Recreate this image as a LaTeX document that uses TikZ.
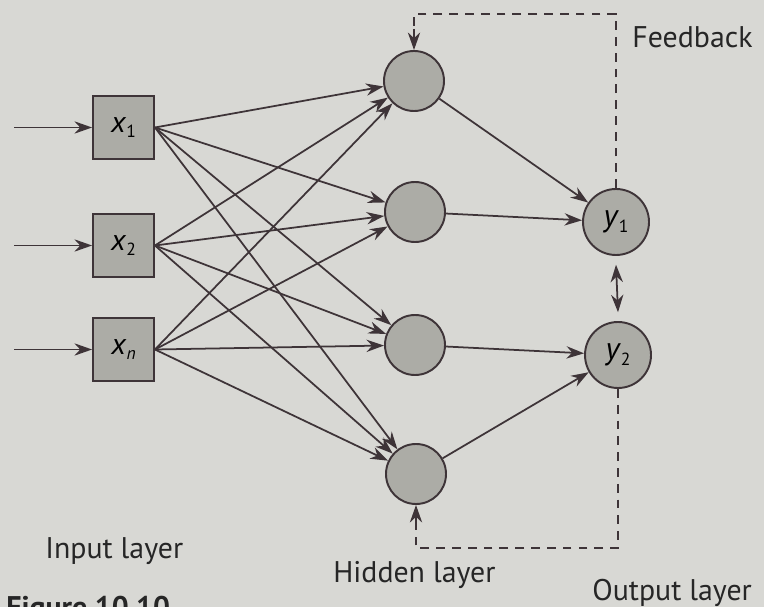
\documentclass[tikz,border=0pt]{standalone}
\usepackage{fontspec}
\setmainfont{PT Sans}
\usetikzlibrary{arrows.meta}
\definecolor{bg}{RGB}{216,216,212}
\definecolor{nodefill}{RGB}{172,172,166}
\definecolor{ink}{RGB}{62,52,56}
\newcommand{\lsub}[1]{\raisebox{-0.35ex}{\fontsize{10}{10}\selectfont #1}}
\begin{document}
\begin{tikzpicture}[x=0.02cm,y=-0.02cm,
  inbox/.style={draw=ink,line width=1.1pt,fill=nodefill,minimum width=61*0.02cm,minimum height=63*0.02cm,inner sep=0pt,font=\fontsize{17}{17}\selectfont},
  neuron/.style={circle,draw=ink,line width=1.1pt,fill=nodefill,minimum size=60*0.02cm,inner sep=0pt},
  outneuron/.style={circle,draw=ink,line width=1.1pt,fill=nodefill,minimum size=66*0.02cm,inner sep=0pt,font=\fontsize{18}{18}\selectfont},
  tip/.style={Stealth[length=10pt,width=7pt]},
  conn/.style={draw=ink,line width=1pt,-{Stealth[length=10pt,width=7pt]}},
  fb/.style={draw=ink,line width=1pt,dash pattern=on 5pt off 4pt},
  lbl/.style={font=\fontsize{17}{17}\selectfont,text=black!85,inner sep=0pt}]
\useasboundingbox (0,0) rectangle (764,607);
\clip (0,0) rectangle (764,607);
\fill[bg] (0,0) rectangle (764,607);

% input nodes
\node[inbox] (x1) at (123.5,127.5) {\textit{x}\lsub{1}};
\node[inbox] (x2) at (123.5,245.5) {\textit{x}\lsub{2}};
\node[inbox] (xn) at (123.5,349.5) {\textit{x}\lsub{\textit{n}}};

\coordinate (i1) at (14,127.5);
\coordinate (i2) at (14,245.5);
\coordinate (i3) at (14,349.5);

% hidden nodes
\node[neuron] (h1) at (414,81) {};
\node[neuron] (h2) at (415,212) {};
\node[neuron] (h3) at (415,345) {};
\node[neuron] (h4) at (416,474) {};

% output nodes
\node[outneuron] (y1) at (616,222) {\textit{y}\lsub{1}};
\node[outneuron] (y2) at (618,355) {\textit{y}\lsub{2}};

% input arrows
\draw[conn] (i1) -- (x1.west);
\draw[conn] (i2) -- (x2.west);
\draw[conn] (i3) -- (xn.west);

% input to hidden
\foreach \s in {x1,x2,xn}{
  \foreach \t in {h1,h2,h3,h4}{
    \draw[conn] (\s.east) -- (\t);
  }
}

% hidden to output
\draw[conn] (h1) -- (y1);
\draw[conn] (h2) -- (y1);
\draw[conn] (h3) -- (y2);
\draw[conn] (h4) -- (y2);

% lateral
\draw[draw=ink,line width=1pt,{Stealth[length=10pt,width=7pt]}-{Stealth[length=10pt,width=7pt]}] ([yshift=-5pt]y1.south) -- ([yshift=5pt]y2.north);

% feedback loops
\coordinate (ftr) at (y1.north |- 0,14);
\coordinate (ftl) at (h1.north |- 0,14);
\draw[fb] (y1.north) -- (ftr) -- (ftl) -- ([yshift=2pt]h1.north);
\draw[conn] ([yshift=12pt]h1.north) -- (h1.north);

\coordinate (fbr) at (y2.south |- 0,548);
\coordinate (fbl) at (h4.south |- 0,548);
\draw[fb] (y2.south) -- (fbr) -- (fbl) -- ([yshift=-2pt]h4.south);
\draw[conn] ([yshift=-12pt]h4.south) -- (h4.south);

% labels
\node[lbl,anchor=west] (fbk) at (632,37) {Feedback};
\node[lbl,anchor=west] (li) at (45,551) {Input layer};
\node[lbl,anchor=west] (lh) at (333,575) {Hidden layer};
\node[lbl,anchor=west] (lo) at (592,593) {Output layer};
\node[anchor=north west,inner sep=0pt,font=\fontsize{17}{17}\bfseries\selectfont,text=black!85] (fig) at (6,596) {Figure 10.10};
\end{tikzpicture}
\end{document}
